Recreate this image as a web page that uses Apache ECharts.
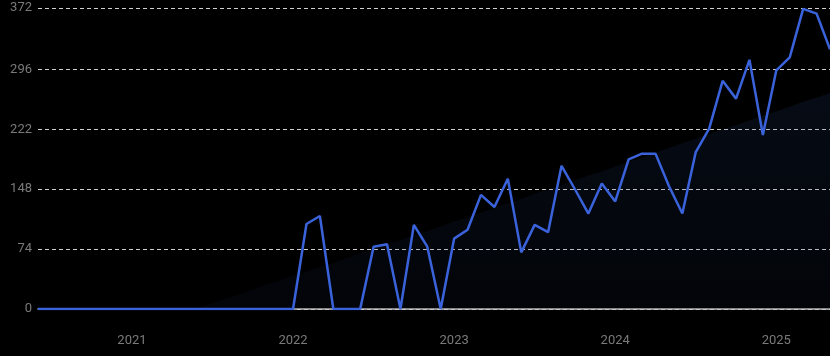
<!DOCTYPE html>
<html>
<head>
<meta charset="utf-8">
<script src="https://cdn.jsdelivr.net/npm/echarts@6/dist/echarts.min.js"></script>
<style>
html,body{margin:0;padding:0;background:#000;}
#chart{width:830px;height:356px;}
</style>
</head>
<body>
<div id="chart"></div>
<script>
const months = [
  '2020-06','2020-07','2020-08','2020-09','2020-10','2020-11','2020-12',
  '2021-01','2021-02','2021-03','2021-04','2021-05','2021-06','2021-07','2021-08','2021-09','2021-10','2021-11','2021-12',
  '2022-01','2022-02','2022-03','2022-04','2022-05','2022-06','2022-07','2022-08','2022-09','2022-10','2022-11','2022-12',
  '2023-01','2023-02','2023-03','2023-04','2023-05','2023-06','2023-07','2023-08','2023-09','2023-10','2023-11','2023-12',
  '2024-01','2024-02','2024-03','2024-04','2024-05','2024-06','2024-07','2024-08','2024-09','2024-10','2024-11','2024-12',
  '2025-01','2025-02','2025-03','2025-04','2025-05'
];
const counts = [
  0,0,0,0,0,0,0,
  0,0,0,0,0,0,0,0,0,0,0,0,
  0,105,115,0,0,0,77,80,0,104,77,0,
  87,98,141,126,161,70,104,95,177,148,118,155,
  133,185,192,192,152,118,194,223,282,260,308,215,
  295,311,371,365,321
];
const trend = [
  0,0,0,0,0,0,0,
  0,0,0,0,0,2,7,13,18,24,30,35,
  41,46,52,57,63,69,74,80,85,91,96,102,
  108,113,119,125,131,136,142,148,153,159,165,170,
  176,182,187,193,199,205,210,216,222,227,233,239,
  244,250,256,261,267
];
const yTicks = [0,74,148,222,296,372];

const chart = echarts.init(document.getElementById('chart'));
chart.setOption({
  backgroundColor:'#000',
  animation:false,
  grid:{left:38,right:0,top:8,bottom:47,containLabel:false},
  xAxis:{
    type:'category',
    data:months,
    boundaryGap:false,
    axisLine:{show:true,lineStyle:{color:'#c8c8c8',width:1.5}},
    axisTick:{show:false},
    splitLine:{show:false},
    axisLabel:{
      color:'#7a7a7a',fontSize:13,fontFamily:'Roboto',margin:25,
      interval:function(idx,val){return val.slice(5)==='01';},
      formatter:function(val){return val.slice(0,4);}
    }
  },
  yAxis:{
    type:'value',
    min:0,max:372,
    axisLine:{show:false},
    axisTick:{show:false,customValues:yTicks},
    axisLabel:{color:'#7a7a7a',fontSize:13,fontFamily:'Roboto',margin:6,customValues:yTicks},
    splitLine:{show:true,lineStyle:{color:'#cfcfcf',type:[4,3],width:1}}
  },
  series:[
    {
      type:'line',
      data:trend,
      symbol:'none',
      silent:true,
      lineStyle:{width:0,opacity:0},
      areaStyle:{
        color:new echarts.graphic.LinearGradient(0,0,0,1,[
          {offset:0,color:'rgba(40,75,140,0.22)'},
          {offset:1,color:'rgba(20,35,70,0.18)'}
        ])
      },
      z:1
    },
    {
      type:'line',
      data:counts,
      symbol:'none',
      lineStyle:{color:'#3a63db',width:2.5},
      z:3
    }
  ]
});
</script>
</body>
</html>
